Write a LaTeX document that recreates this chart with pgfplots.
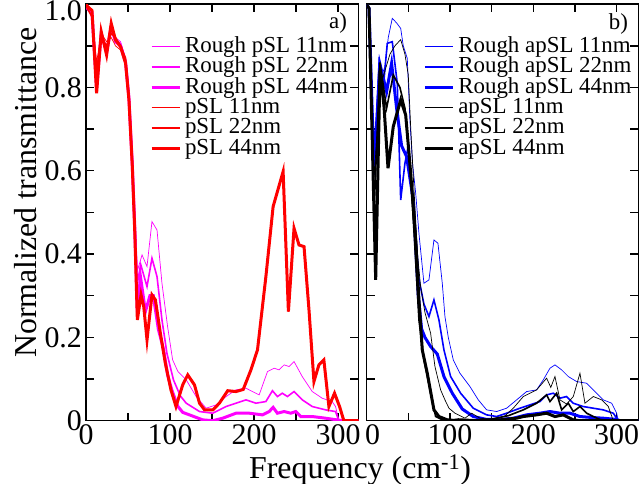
\documentclass[border=0pt]{standalone}
\usepackage{fontspec}
\newfontfamily\tms{Liberation Serif}
\usepackage{pgfplots}
\pgfplotsset{compat=1.18}
\definecolor{mag}{RGB}{255,0,255}
\definecolor{rd}{RGB}{255,0,0}
\definecolor{bl}{RGB}{0,0,255}
\pgfplotsset{
  panel/.style={
    scale only axis, anchor=south west,
    height=416.5bp,
    xmin=0, xmax=324, ymin=0, ymax=1,
    xtick={0,50,100,150,200,250,300},
    ytick={0,0.1,0.2,0.3,0.4,0.5,0.6,0.7,0.8,0.9},
    tick align=inside, xtick pos=both, ytick pos=both,
    major tick length=8bp,
    axis line style={line width=1.6bp},
    tick style={line width=1.4bp, black},
    tick label style={font=\fontsize{30}{30}\selectfont},
    yticklabel style={inner xsep=4bp},
    extra y ticks={1},
    extra y tick style={yticklabel style={yshift=-7bp}},
    legend cell align=left,
    legend image code/.code={\draw[##1] (0bp,1.2bp) -- (28bp,1.2bp);},
    legend style={draw=none, fill=none, inner sep=0pt, outer sep=0pt,
      anchor=north west, font=\fontsize{23}{20}\selectfont,
      nodes={inner sep=0pt, text height=15bp, text depth=5.3bp},
      row sep=0bp, column sep=4bp},
  },
  lthin/.style={line width=0.7bp},
  lmed/.style={line width=1.6bp},
  lthick/.style={line width=3bp},
}
\begin{document}
\begin{tikzpicture}
\path[use as bounding box] (0bp,0bp) rectangle (641bp,484bp);
% ---------------- panel a
\begin{axis}[panel, at={(86.1bp,63.3bp)}, width=272.2bp,
  xticklabels={\tms 0,,\tms 100,,\tms 200,,\tms 300},
  yticklabels={\tms 0,,\tms 0.2,,\tms 0.4,,\tms 0.6,,\tms 0.8,},
  extra y tick labels={\tms 1.0},
  legend style={at={(0.2348,0.9196)}}]
\addplot[mag, lthin] coordinates {(0,1.0)(1.4,0.99)(7,0.97)(12.5,0.83)(18,0.92)(24.4,0.9)(29.9,0.93)(35,0.92)(41,0.91)(47,0.87)(51,0.79)(55,0.64)(58,0.5)(61,0.36)(66.6,0.398)(72.5,0.37)(78.4,0.478)(84.4,0.458)(90.3,0.33)(97,0.226)(103,0.146)(109.3,0.118)(119.2,0.098)(131,0.058)(142.9,0.03)(154.7,0.038)(166.6,0.058)(178.4,0.074)(190.3,0.078)(198,0.07)(206,0.062)(215.9,0.118)(223.8,0.126)(229.7,0.122)(235.7,0.134)(241.6,0.13)(247.5,0.142)(257.3,0.106)(269.2,0.07)(281,0.054)(292.9,0.046)(296.9,0.034)(300.8,0.002)(324,0)};
\addlegendentry{\tms Rough pSL 11nm}
\addplot[mag, lmed] coordinates {(0,1.0)(1.4,0.99)(7,0.975)(12.5,0.82)(18,0.925)(24.4,0.89)(29.9,0.935)(35,0.915)(41,0.905)(47,0.865)(51,0.78)(55,0.63)(58,0.47)(61,0.33)(65,0.375)(72.5,0.322)(78.4,0.39)(84.4,0.346)(90.3,0.242)(96.2,0.162)(104,0.098)(112,0.06)(119.2,0.042)(135,0.022)(150.7,0.018)(166.6,0.034)(178.4,0.042)(190.3,0.05)(202.1,0.042)(214,0.046)(221.8,0.072)(227.7,0.058)(233.6,0.066)(239.6,0.058)(247.5,0.07)(257.3,0.05)(269.2,0.034)(285,0.026)(296.9,0.022)(300.8,0)(324,0)};
\addlegendentry{\tms Rough pSL 22nm}
\addplot[mag, lthick] coordinates {(0,1.0)(1.4,0.99)(7,0.98)(12.5,0.8)(18,0.93)(24.4,0.885)(29.9,0.945)(35,0.91)(41,0.9)(47,0.86)(51,0.775)(55,0.615)(58,0.46)(61,0.26)(64.7,0.346)(70.6,0.262)(76,0.3)(80,0.3)(86,0.22)(92.3,0.17)(97,0.11)(102,0.074)(109,0.035)(115,0.02)(123,0.014)(138.8,0.002)(150.7,0)(162.6,0.006)(178.4,0.018)(194.2,0.018)(210,0.014)(217.9,0.022)(222.6,0.032)(227.7,0.018)(235.7,0.022)(243.6,0.018)(249.5,0.022)(255.5,0.01)(269.2,0.01)(285,0.006)(298.8,0.002)(305,0)(324,0)};
\addlegendentry{\tms Rough pSL 44nm}
\addplot[rd, lthin] coordinates {(0,1.0)(1.4,1.0)(7,0.98)(12.5,0.86)(18,0.93)(24.4,0.91)(29.9,0.92)(35,0.9)(41,0.89)(47,0.86)(51,0.76)(55,0.6)(58,0.45)(61,0.25)(65.4,0.302)(68.6,0.274)(72.5,0.194)(78.4,0.302)(82.5,0.29)(88.4,0.21)(94.3,0.138)(101,0.074)(107,0.034)(115,0.086)(121,0.11)(129,0.086)(135,0.042)(141,0.026)(151,0.026)(158.6,0.042)(168.5,0.072)(178.4,0.07)(187,0.075)(196.2,0.122)(204,0.17)(214,0.346)(222.6,0.514)(234.5,0.598)(240.8,0.262)(247.5,0.462)(253.4,0.422)(259.4,0.418)(265.3,0.266)(271.2,0.094)(277.1,0.134)(283,0.146)(289,0.034)(295.7,0.066)(301.7,0.034)(306.8,0)(324,0)};
\addlegendentry{\tms pSL 11nm}
\addplot[rd, lmed] coordinates {(0,1.0)(1.4,0.99)(7,0.97)(12.5,0.84)(18,0.92)(24.4,0.9)(29.9,0.93)(35,0.92)(41,0.9)(47,0.87)(51,0.78)(55,0.62)(58,0.45)(61,0.245)(65.4,0.302)(68.6,0.274)(72.5,0.194)(78.4,0.302)(82.5,0.29)(88.4,0.21)(94.3,0.138)(101,0.074)(107,0.034)(115,0.086)(121,0.11)(129,0.086)(135,0.042)(141,0.026)(151,0.026)(158.6,0.042)(168.5,0.072)(178.4,0.07)(187,0.075)(196.2,0.122)(204,0.17)(214,0.346)(222.6,0.514)(234.5,0.598)(240.8,0.262)(247.5,0.462)(253.4,0.422)(259.4,0.418)(265.3,0.266)(271.2,0.094)(277.1,0.134)(283,0.146)(289,0.034)(295.7,0.066)(301.7,0.034)(306.8,0)(324,0)};
\addlegendentry{\tms pSL 22nm}
\addplot[rd, lthick] coordinates {(0,1.0)(1.4,0.995)(7,0.985)(12.5,0.786)(18,0.934)(24.4,0.878)(29.9,0.954)(35,0.914)(41,0.898)(47,0.858)(51,0.77)(55,0.61)(58,0.45)(61,0.242)(65.4,0.302)(68.6,0.274)(72.5,0.194)(78.4,0.302)(82.5,0.29)(88.4,0.21)(94.3,0.138)(101,0.074)(107,0.034)(115,0.086)(121,0.11)(129,0.086)(135,0.042)(141,0.026)(151,0.026)(158.6,0.042)(168.5,0.072)(178.4,0.07)(187,0.075)(196.2,0.122)(204,0.17)(214,0.346)(222.6,0.514)(234.5,0.598)(240.8,0.262)(247.5,0.462)(253.4,0.422)(259.4,0.418)(265.3,0.266)(271.2,0.094)(277.1,0.134)(283,0.146)(289,0.034)(295.7,0.066)(301.7,0.034)(306.8,0)(324,0)};
\addlegendentry{\tms pSL 44nm}
\end{axis}
% ---------------- panel b
\begin{axis}[panel, at={(366.6bp,63.3bp)}, width=271.7bp, xmax=326,
  xticklabels={\hspace*{12bp}\tms 0,,\tms 100,,\tms 200,,\tms 300},
  yticklabels={}, extra y tick labels={},
  legend style={at={(0.2087,0.9196)}}]
\addplot[bl, lthin] coordinates {(0,1.0)(2.9,0.99)(8.9,0.6)(16.1,0.818)(22,0.85)(26,0.92)(30.8,0.966)(36,0.955)(40.9,0.942)(44,0.9)(48.8,0.87)(52,0.72)(55,0.62)(58.9,0.546)(62.8,0.45)(68.8,0.33)(74.8,0.338)(80.8,0.434)(85.6,0.426)(90.8,0.33)(94,0.25)(98,0.2)(104,0.146)(112,0.114)(124,0.082)(134,0.05)(144,0.026)(156,0.022)(168,0.03)(180,0.05)(192,0.07)(204,0.074)(212,0.098)(220,0.126)(226,0.134)(234,0.122)(242,0.106)(252,0.094)(264,0.09)(274,0.07)(284,0.05)(294,0.042)(300,0.018)(302,0)(326,0)};
\addlegendentry{\tms Rough apSL 11nm}
\addplot[bl, lmed] coordinates {(0,1.0)(2.9,0.99)(8.9,0.59)(14.9,0.858)(20,0.8)(24.8,0.906)(30.8,0.91)(36.8,0.81)(40.9,0.53)(46,0.618)(50,0.66)(54,0.55)(58.9,0.45)(62.8,0.34)(68.8,0.28)(74.8,0.25)(80.8,0.29)(86.8,0.242)(92.8,0.17)(100.8,0.106)(112.8,0.066)(128,0.03)(144,0.014)(156,0.01)(168,0.018)(184,0.03)(196,0.038)(208,0.046)(216,0.062)(224,0.066)(232,0.054)(240,0.058)(248,0.042)(260,0.034)(272,0.03)(284,0.026)(296,0.018)(302,0)(326,0)};
\addlegendentry{\tms Rough apSL 22nm}
\addplot[bl, lthick] coordinates {(0,1.0)(2.9,0.99)(8.9,0.6)(16,0.856)(24,0.79)(30,0.858)(36,0.75)(42,0.66)(48,0.634)(56,0.53)(62,0.3)(66,0.22)(70,0.2)(76.8,0.178)(84.8,0.16)(92.8,0.106)(102.8,0.066)(114.8,0.028)(128,0.01)(144,0.003)(160,0.003)(176,0.006)(192,0.014)(208,0.018)(220,0.022)(232,0.018)(244,0.018)(256,0.01)(268,0.008)(284,0.006)(300,0.003)(304,0)(326,0)};
\addlegendentry{\tms Rough apSL 44nm}
\addplot[black, lthin] coordinates {(0,1.0)(2.9,0.99)(8.9,0.58)(16.1,0.8)(22,0.84)(28,0.88)(34,0.9)(40.9,0.915)(46,0.88)(50,0.83)(53,0.7)(57,0.55)(61,0.4)(64.8,0.322)(70,0.26)(76.8,0.21)(82,0.13)(88.8,0.074)(94,0.05)(98.8,0.03)(106,0.018)(118,0.006)(126,0.018)(136,0.006)(150,0.003)(165,0.01)(176,0.03)(188,0.058)(204,0.074)(216,0.102)(221,0.08)(226,0.106)(232,0.05)(240,0.04)(248,0.058)(256,0.114)(262,0.042)(272,0.058)(282,0.05)(290,0.034)(296,0)(326,0)};
\addlegendentry{\tms apSL 11nm}
\addplot[black, lmed] coordinates {(0,1.0)(2.9,0.99)(8.9,0.5)(16.1,0.86)(24,0.75)(32,0.83)(40,0.8)(46,0.75)(52,0.62)(57,0.45)(62.8,0.242)(68.8,0.146)(76.8,0.066)(82.8,0.01)(90,0.003)(98,0)(110,0.004)(130,0.002)(150,0.004)(170,0.012)(188,0.026)(204,0.042)(216,0.062)(220,0.046)(228,0.066)(234,0.026)(242,0.042)(248,0.022)(256,0.034)(264,0.018)(272,0.01)(280,0.003)(290,0)(326,0)};
\addlegendentry{\tms apSL 22nm}
\addplot[black, lthick] coordinates {(0,1.0)(2.9,0.99)(10.9,0.338)(16.1,0.842)(20.9,0.754)(25.7,0.606)(32,0.706)(40.9,0.77)(46.9,0.734)(52.9,0.594)(58.9,0.434)(62.8,0.29)(66.8,0.17)(72.8,0.114)(80.8,0.026)(86.8,0.01)(96.8,0.002)(110,0)(130,0)(160,0.002)(180,0.006)(188,0.01)(204,0.014)(216,0.018)(226,0.01)(236,0.014)(248,0.002)(256,0)(326,0)};
\addlegendentry{\tms apSL 44nm}
\end{axis}
\node[font=\fontsize{23}{23}\selectfont, anchor=base east] at (350.5bp,455bp) {\tms a)};
\node[font=\fontsize{23}{23}\selectfont, anchor=base east] at (631.5bp,454bp) {\tms b)};
\node[font=\fontsize{32}{32}\selectfont, rotate=90, anchor=base] at (36bp,291.5bp) {\tms Normalized transmittance};
\node[font=\fontsize{32}{32}\selectfont, anchor=base] at (360bp,5.5bp) {\tms Frequency (cm\textsuperscript{-1})};
\end{tikzpicture}
\end{document}
